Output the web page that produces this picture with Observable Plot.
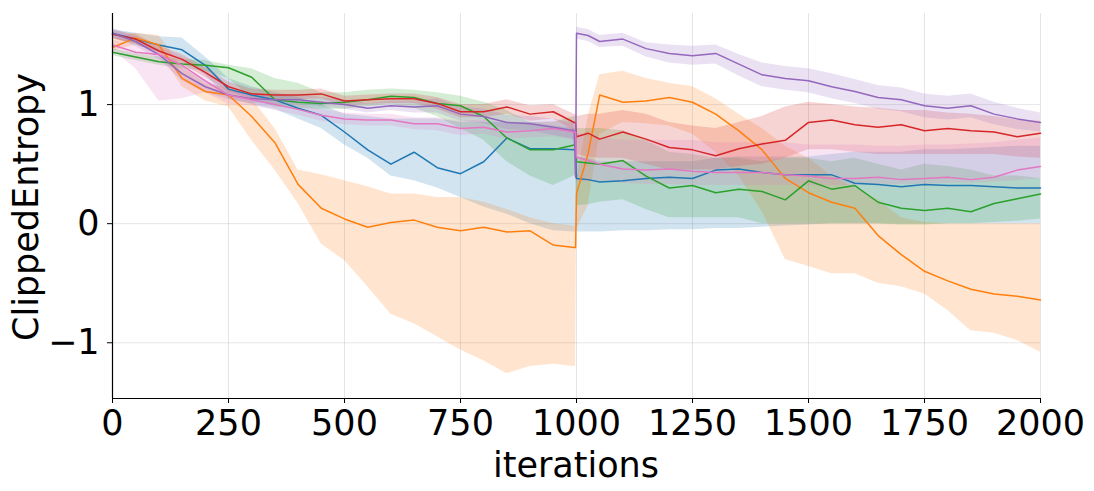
<!DOCTYPE html>
<html>
<head>
<meta charset="utf-8">
<script src="https://cdn.jsdelivr.net/npm/d3@7"></script>
<script src="https://cdn.jsdelivr.net/npm/@observablehq/plot@0.6"></script>
<style>
  html, body { margin: 0; padding: 0; background: #fff; }
</style>
</head>
<body>
<div id="chart"></div>
<script>
// ---- data ----
const iterations = [0,50,100,150,200,250,300,350,400,450,500,550,600,650,700,750,800,850,900,950,995,998,1000,1025,1050,1100,1150,1200,1250,1300,1350,1400,1450,1500,1550,1600,1650,1700,1750,1800,1850,1900,1950,2000];

const seriesNames = ["run 1", "run 2", "run 3", "run 4", "run 5", "run 6"];
const seriesColors = ["#1f77b4", "#ff7f0e", "#2ca02c", "#d62728", "#9467bd", "#e377c2"];

const blueMean = [1.60,1.55,1.50,1.46,1.33,1.13,1.08,1.04,0.97,0.91,0.77,0.62,0.50,0.60,0.47,0.42,0.52,0.72,0.63,0.63,0.62,0.62,0.38,0.37,0.35,0.36,0.38,0.39,0.38,0.45,0.46,0.43,0.41,0.41,0.41,0.34,0.33,0.31,0.33,0.32,0.32,0.31,0.30,0.30];
const blueLow  = [1.56,1.50,1.44,1.38,1.25,1.05,1.00,0.96,0.88,0.80,0.66,0.55,0.40,0.36,0.30,0.22,0.14,0.08,0.00,-0.06,-0.07,-0.07,-0.07,-0.07,-0.07,-0.06,-0.06,-0.05,-0.05,-0.04,-0.04,-0.03,-0.02,-0.01,0.00,0.00,0.00,0.00,0.00,0.00,0.00,0.00,0.00,0.00];
const blueHigh = [1.63,1.60,1.57,1.56,1.40,1.22,1.15,1.10,1.06,1.00,0.92,0.90,0.88,0.88,0.88,0.85,0.85,0.85,0.85,0.82,0.80,0.80,0.55,0.55,0.52,0.52,0.52,0.52,0.52,0.55,0.56,0.56,0.56,0.56,0.58,0.60,0.60,0.60,0.62,0.62,0.63,0.64,0.65,0.65];

const orangeMean = [1.48,1.56,1.50,1.22,1.11,1.08,0.90,0.68,0.33,0.13,0.04,-0.03,0.01,0.03,-0.03,-0.06,-0.03,-0.07,-0.06,-0.18,-0.20,-0.20,0.25,0.59,1.08,1.02,1.03,1.06,1.02,0.92,0.78,0.62,0.38,0.26,0.18,0.13,-0.10,-0.26,-0.40,-0.48,-0.55,-0.59,-0.61,-0.64];
const orangeLow  = [1.45,1.50,1.45,1.15,1.03,0.98,0.70,0.45,0.17,-0.17,-0.31,-0.53,-0.76,-0.84,-0.95,-1.06,-1.15,-1.26,-1.20,-1.18,-1.20,-1.20,-0.05,0.15,0.75,0.85,0.84,0.82,0.75,0.60,0.40,0.10,-0.30,-0.36,-0.42,-0.42,-0.50,-0.53,-0.59,-0.73,-0.90,-0.92,-0.98,-1.08];
const orangeHigh = [1.55,1.60,1.58,1.32,1.18,1.14,1.05,0.80,0.45,0.41,0.36,0.31,0.25,0.25,0.22,0.22,0.18,0.12,0.05,0.00,-0.02,-0.02,0.35,0.90,1.25,1.28,1.22,1.18,1.15,1.05,0.92,0.80,0.65,0.55,0.40,0.30,0.20,0.05,0.01,0.00,0.00,0.00,0.00,0.00];

const greenMean = [1.44,1.40,1.36,1.34,1.33,1.31,1.23,1.04,1.02,1.01,1.02,1.04,1.07,1.06,1.01,0.99,0.90,0.72,0.62,0.62,0.66,0.66,0.52,0.51,0.50,0.53,0.40,0.30,0.32,0.26,0.29,0.27,0.20,0.36,0.29,0.32,0.18,0.13,0.11,0.13,0.10,0.17,0.21,0.25];
const greenLow  = [1.41,1.37,1.33,1.30,1.28,1.22,1.05,0.98,0.97,0.96,0.96,0.98,1.00,0.97,0.90,0.80,0.70,0.52,0.40,0.32,0.40,0.40,0.15,0.16,0.18,0.20,0.12,0.05,0.05,0.05,0.05,0.00,0.00,0.00,0.00,0.00,0.00,-0.01,-0.01,0.00,0.00,0.01,0.02,0.04];
const greenHigh = [1.47,1.43,1.40,1.38,1.37,1.33,1.30,1.22,1.18,1.10,1.10,1.12,1.13,1.12,1.10,1.07,1.02,0.95,0.85,0.85,0.90,0.90,0.80,0.80,0.80,0.78,0.70,0.60,0.58,0.55,0.55,0.52,0.55,0.55,0.52,0.55,0.50,0.45,0.50,0.48,0.45,0.40,0.40,0.38];

const redMean = [1.59,1.55,1.45,1.38,1.27,1.15,1.09,1.08,1.08,1.09,1.03,1.04,1.05,1.05,1.01,0.94,0.94,0.98,0.92,0.94,0.85,0.85,0.73,0.76,0.71,0.77,0.71,0.64,0.62,0.57,0.63,0.67,0.70,0.85,0.87,0.83,0.81,0.83,0.78,0.80,0.78,0.77,0.73,0.76];
const redLow  = [1.55,1.51,1.41,1.34,1.23,1.11,1.05,1.04,1.04,1.05,0.99,1.00,1.01,1.01,0.96,0.89,0.89,0.92,0.86,0.88,0.78,0.78,0.58,0.56,0.55,0.55,0.50,0.45,0.45,0.45,0.48,0.50,0.55,0.62,0.62,0.60,0.58,0.58,0.58,0.58,0.58,0.58,0.56,0.55];
const redHigh = [1.62,1.59,1.49,1.42,1.31,1.19,1.13,1.12,1.12,1.13,1.07,1.08,1.09,1.09,1.06,1.00,1.00,1.04,0.99,1.00,0.92,0.92,0.90,0.92,0.92,0.95,0.92,0.85,0.82,0.80,0.85,0.90,0.98,1.02,1.00,0.98,0.97,0.95,0.95,0.93,0.92,0.90,0.87,0.86];

const purpleMean = [1.60,1.53,1.42,1.26,1.15,1.08,1.05,1.04,1.04,1.02,1.00,0.97,0.99,0.98,0.99,0.92,0.90,0.85,0.84,0.81,0.78,0.39,1.60,1.58,1.53,1.55,1.47,1.43,1.41,1.43,1.34,1.25,1.22,1.20,1.15,1.11,1.06,1.04,0.99,0.97,0.99,0.92,0.88,0.85];
const purpleLow  = [1.56,1.49,1.38,1.20,1.10,1.04,1.01,1.00,1.00,0.98,0.96,0.93,0.95,0.93,0.93,0.86,0.84,0.79,0.78,0.74,0.71,0.37,1.55,1.53,1.48,1.49,1.40,1.35,1.33,1.34,1.24,1.15,1.12,1.10,1.05,1.01,0.96,0.94,0.89,0.87,0.89,0.83,0.79,0.77];
const purpleHigh = [1.64,1.57,1.46,1.31,1.20,1.12,1.09,1.08,1.08,1.06,1.04,1.01,1.03,1.03,1.05,0.98,0.96,0.91,0.90,0.88,0.85,0.41,1.65,1.63,1.58,1.60,1.52,1.50,1.49,1.50,1.42,1.35,1.32,1.30,1.26,1.21,1.16,1.14,1.09,1.07,1.09,1.02,0.97,0.93];

const pinkMean = [1.50,1.44,1.42,1.33,1.20,1.08,1.04,1.00,0.96,0.91,0.88,0.87,0.87,0.84,0.84,0.80,0.81,0.77,0.78,0.80,0.77,0.77,0.56,0.53,0.50,0.46,0.45,0.46,0.44,0.43,0.43,0.43,0.41,0.40,0.38,0.38,0.39,0.37,0.38,0.39,0.37,0.39,0.45,0.48];
const pinkLow  = [1.46,1.30,1.03,1.05,1.10,1.00,0.99,0.95,0.91,0.86,0.83,0.82,0.82,0.79,0.78,0.74,0.75,0.71,0.72,0.73,0.70,0.70,0.35,0.35,0.35,0.34,0.33,0.33,0.32,0.32,0.32,0.32,0.32,0.32,0.32,0.32,0.33,0.33,0.33,0.34,0.34,0.35,0.36,0.38];
const pinkHigh = [1.54,1.50,1.47,1.40,1.27,1.13,1.09,1.05,1.01,0.96,0.93,0.92,0.92,0.89,0.89,0.86,0.87,0.84,0.85,0.86,0.84,0.84,0.76,0.74,0.72,0.70,0.70,0.70,0.70,0.68,0.68,0.68,0.68,0.66,0.66,0.66,0.65,0.65,0.66,0.66,0.67,0.68,0.70,0.72];

const xTicks = [0, 250, 500, 750, 1000, 1250, 1500, 1750, 2000];
const yTicks = [-1, 0, 1];
const xLabel = "iterations";
const yLabel = "ClippedEntropy";

// ---- tidy table ----
const means = [blueMean, orangeMean, greenMean, redMean, purpleMean, pinkMean];
const lows  = [blueLow, orangeLow, greenLow, redLow, purpleLow, pinkLow];
const highs = [blueHigh, orangeHigh, greenHigh, redHigh, purpleHigh, pinkHigh];
const rows = [];
seriesNames.forEach((name, s) => {
  iterations.forEach((it, i) => {
    rows.push({series: name, x: it, y: means[s][i], lo: lows[s][i], hi: highs[s][i]});
  });
});

const yMin = -1.468, yMax = 1.765;
const fmt = d => d < 0 ? "\u2212" + Math.abs(d) : String(d);

const chart = Plot.plot({
  width: 1094,
  height: 491,
  marginLeft: 112,
  marginRight: 54,
  marginTop: 13,
  marginBottom: 93,
  style: {fontFamily: "DejaVu Sans", fontSize: "35px", background: "#fff", color: "#000", overflow: "visible"},
  x: {domain: [0, 2000]},
  y: {domain: [yMin, yMax]},
  color: {domain: seriesNames, range: seriesColors},
  marks: [
    Plot.gridX(xTicks, {stroke: "#000", strokeOpacity: 0.1, strokeWidth: 1}),
    Plot.gridY(yTicks, {stroke: "#000", strokeOpacity: 0.1, strokeWidth: 1}),
    Plot.areaY(rows, {x: "x", y1: "lo", y2: "hi", z: "series", fill: "series", fillOpacity: 0.2}),
    Plot.line(rows, {x: "x", y: "y", z: "series", stroke: "series", strokeWidth: 1.5}),
    Plot.ruleX([0], {stroke: "#000", strokeWidth: 1.2}),
    Plot.ruleY([yMin], {stroke: "#000", strokeWidth: 1.2}),
    Plot.axisX(xTicks, {tickSize: 5, tickPadding: 7, label: null, tickFormat: d => String(d)}),
    Plot.axisY(yTicks, {tickSize: 5, tickPadding: 8, label: null, tickFormat: fmt})
  ]
});

const svg = d3.select(chart);
svg.append("text")
  .attr("x", 576).attr("y", 477)
  .attr("text-anchor", "middle")
  .attr("font-family", "DejaVu Sans").attr("font-size", 35).attr("fill", "#000")
  .text(xLabel);
svg.append("text")
  .attr("transform", "translate(38,207) rotate(-90)")
  .attr("text-anchor", "middle")
  .attr("font-family", "DejaVu Sans").attr("font-size", 35).attr("fill", "#000")
  .text(yLabel);

document.getElementById("chart").appendChild(chart);
</script>
</body>
</html>
